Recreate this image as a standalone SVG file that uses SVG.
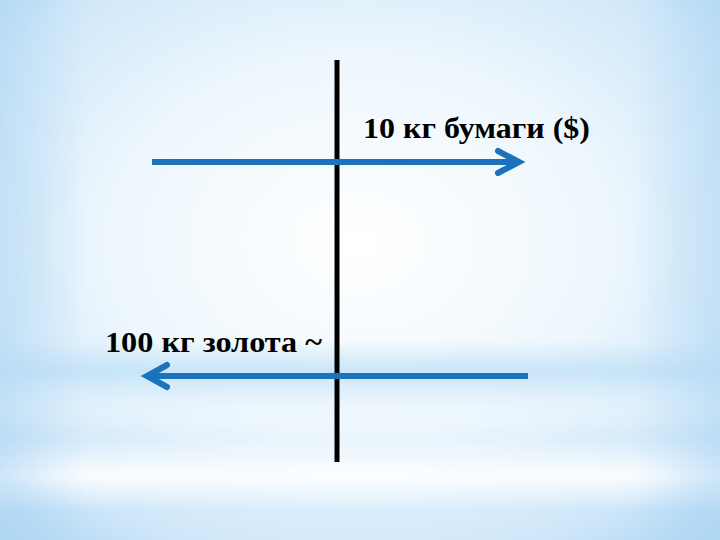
<svg xmlns="http://www.w3.org/2000/svg" width="720" height="540" viewBox="0 0 720 540">
<defs>
<radialGradient id="bg" cx="0.5" cy="0.45" r="0.75">
<stop offset="0" stop-color="#ffffff"/>
<stop offset="0.45" stop-color="#eef7fd"/>
<stop offset="0.8" stop-color="#cfe7f9"/>
<stop offset="1" stop-color="#a9d3f3"/>
</radialGradient>
<linearGradient id="band" x1="0" y1="0" x2="0" y2="1">
<stop offset="0" stop-color="#bfe0f7" stop-opacity="0"/>
<stop offset="0.35" stop-color="#bfe0f7" stop-opacity="0.8"/>
<stop offset="0.55" stop-color="#d4eafa" stop-opacity="0.7"/>
<stop offset="1" stop-color="#ffffff" stop-opacity="0"/>
</linearGradient>
<linearGradient id="bottom" x1="0" y1="0" x2="0" y2="1">
<stop offset="0" stop-color="#ffffff" stop-opacity="0"/>
<stop offset="0.5" stop-color="#ffffff" stop-opacity="0.9"/>
<stop offset="1" stop-color="#ffffff" stop-opacity="0"/>
</linearGradient>
<linearGradient id="sides" x1="0" y1="0" x2="1" y2="0">
<stop offset="0" stop-color="#b2d8f4"/>
<stop offset="0.12" stop-color="#b2d8f4" stop-opacity="0"/>
<stop offset="0.88" stop-color="#b2d8f4" stop-opacity="0"/>
<stop offset="1" stop-color="#b2d8f4"/>
</linearGradient>
</defs>
<style>
.axis{stroke:#000;stroke-width:5;fill:none}
.arr{stroke:#1b72bd;stroke-width:6;fill:none;stroke-linecap:butt}
.head{stroke:#1b72bd;stroke-width:6;fill:none;stroke-linecap:round;stroke-linejoin:miter}
.lbl{font-family:"Liberation Serif","Times New Roman",serif;font-size:30px;font-weight:bold;fill:#000}
</style>
<rect width="720" height="540" fill="url(#bg)"/>
<rect y="340" width="720" height="90" fill="url(#band)"/>
<rect y="440" width="720" height="70" fill="url(#bottom)"/>
<rect width="720" height="540" fill="url(#sides)" opacity="0.6"/>
<g id="axis"><line class="axis" x1="337" y1="60" x2="337" y2="462"/></g>
<g id="connectors">
<line class="arr" x1="152" y1="162" x2="518" y2="162"/>
<polyline class="head" points="498,151 519,162 498,173"/>
<line class="arr" x1="528" y1="376" x2="148" y2="376"/>
<polyline class="head" points="167,365 147,376 167,387"/>
</g>
<g id="label-paper"><text class="lbl" x="363" y="138" textLength="227" lengthAdjust="spacingAndGlyphs">10 кг бумаги ($)</text></g>
<g id="label-gold"><text class="lbl" x="105" y="352" textLength="217" lengthAdjust="spacingAndGlyphs">100 кг золота ~</text></g>
</svg>
